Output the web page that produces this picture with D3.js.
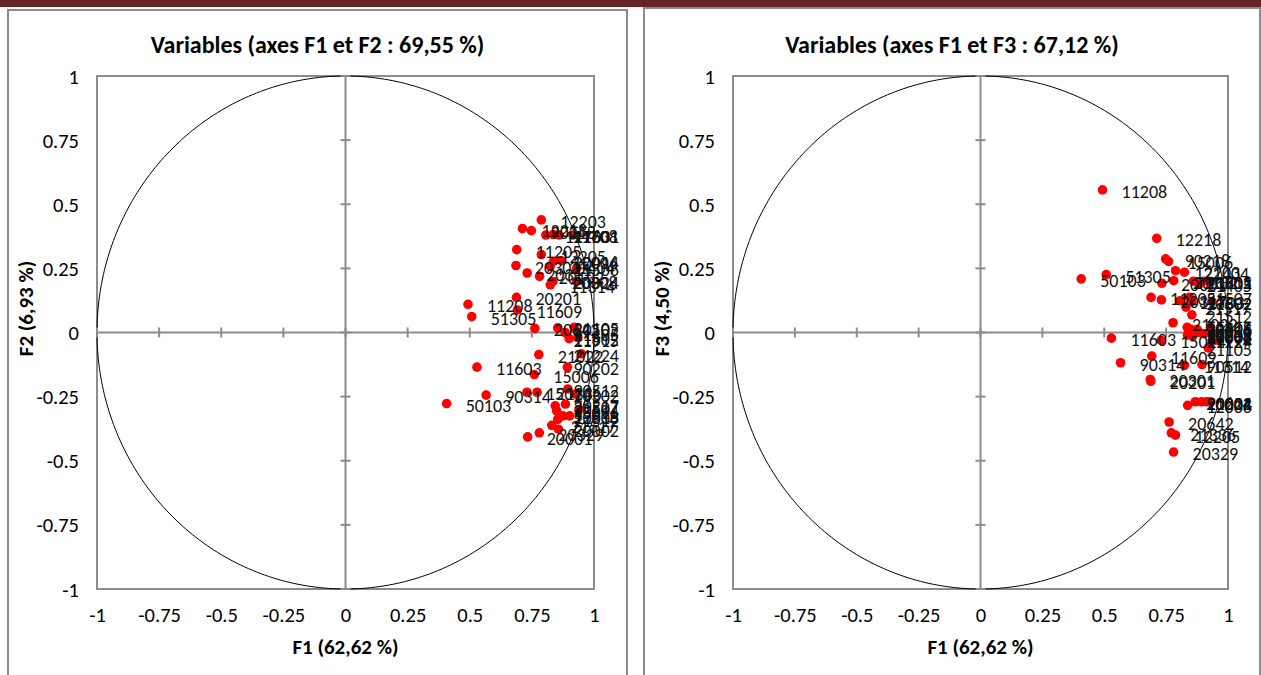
<!DOCTYPE html>
<html>
<head>
<meta charset="utf-8">
<script src="https://cdn.jsdelivr.net/npm/d3@7"></script>
<style>
  html, body { margin: 0; padding: 0; background: #fff; }
  svg { display: block; }
  text { font-family: Carlito, Lato, "Liberation Sans", sans-serif; }
</style>
</head>
<body>
<svg id="chart" width="1261" height="675"></svg>
<script>
// Variable codes and their coordinates on the first three factors
const codes = ["11208","51305","50103","11603","90314","12218","20201","20301","11609","11205",
  "20317","20001","15014","90218","15006","20642","21336","20329","21022","20132",
  "12205","12203","11703","21404","11314","21517","20308","11708","12006","21507",
  "15016","20502","21512","20002","11601","20014","20616","21405","20217","90202",
  "90512","21915","12008","21601","21105","20302","11506","20024","11602","20504","21224"];
const f1 = [0.493,0.508,0.407,0.529,0.566,0.712,0.688,0.686,0.692,0.689,
  0.731,0.733,0.730,0.748,0.760,0.762,0.771,0.780,0.778,0.781,
  0.788,0.788,0.806,0.824,0.824,0.830,0.835,0.836,0.837,0.844,
  0.850,0.854,0.854,0.857,0.860,0.868,0.875,0.884,0.885,0.893,
  0.895,0.900,0.902,0.915,0.920,0.925,0.930,0.930,0.935,0.940,0.949];
const f2 = [0.110,0.062,-0.277,-0.135,-0.244,0.405,0.137,0.261,0.088,0.323,
  0.232,-0.407,-0.233,0.397,-0.164,0.016,-0.233,-0.391,-0.086,0.219,
  0.304,0.439,0.380,0.258,0.186,-0.362,0.199,0.382,0.278,-0.286,
  -0.306,0.018,-0.339,-0.377,0.380,0.280,-0.325,0.000,-0.279,-0.135,
  -0.220,-0.024,-0.325,0.380,0.020,-0.240,0.250,0.200,-0.020,-0.300,-0.083];
const f3 = [0.556,0.226,0.209,-0.022,-0.118,0.367,-0.190,-0.183,-0.092,0.137,
  0.127,0.192,-0.031,0.287,0.277,-0.349,-0.391,-0.466,0.038,0.202,
  -0.400,0.241,0.124,0.235,-0.128,0.099,0.020,-0.010,-0.284,0.137,
  0.012,0.120,0.069,-0.015,0.200,-0.270,0.012,0.190,0.000,-0.270,
  -0.125,0.200,-0.005,-0.270,-0.060,0.200,0.020,-0.270,0.120,-0.010,-0.030];

const tickValues = [-1,-0.75,-0.5,-0.25,0,0.25,0.5,0.75,1];
const tickLabels = ["-1","-0.75","-0.5","-0.25","0","0.25","0.5","0.75","1"];

const panels = [
  { title: "Variables (axes F1 et F2 : 69,55 %)", xTitle: "F1 (62,62 %)", yTitle: "F2 (6,93 %)",
    frame: [8, 10, 627], plot: [97, 594], ys: f2 },
  { title: "Variables (axes F1 et F3 : 67,12 %)", xTitle: "F1 (62,62 %)", yTitle: "F3 (4,50 %)",
    frame: [644, 8, 1260], plot: [733, 1228], ys: f3 }
];

const svg = d3.select("#chart");
const grey = "#8c8c8c";

// banner along the top edge
svg.append("rect").attr("x", 0).attr("y", 0).attr("width", 1261).attr("height", 7).attr("fill", "#632423");

panels.forEach(p => {
  const g = svg.append("g");
  const [fx, fy, fr] = p.frame;
  // chart frame (open at the bottom edge of the page)
  g.append("path")
    .attr("d", `M${fx},680 L${fx},${fy} L${fr},${fy} L${fr},680`)
    .attr("fill", "none").attr("stroke", grey).attr("stroke-width", 2);

  const x = d3.scaleLinear().domain([-1, 1]).range(p.plot);
  const y = d3.scaleLinear().domain([-1, 1]).range([589, 76]);

  // plot area border
  g.append("rect")
    .attr("x", x(-1)).attr("y", y(1))
    .attr("width", x(1) - x(-1)).attr("height", y(-1) - y(1))
    .attr("fill", "none").attr("stroke", grey).attr("stroke-width", 2);

  // correlation circle
  const angles = d3.range(0, 361, 1).map(a => a * Math.PI / 180);
  g.append("path")
    .datum(angles)
    .attr("d", d3.line().x(a => x(Math.cos(a))).y(a => y(Math.sin(a))))
    .attr("fill", "none").attr("stroke", "#000").attr("stroke-width", 1);

  // axes through the origin
  g.append("line").attr("x1", x(-1)).attr("x2", x(1)).attr("y1", y(0)).attr("y2", y(0))
    .attr("stroke", grey).attr("stroke-width", 2);
  g.append("line").attr("x1", x(0)).attr("x2", x(0)).attr("y1", y(-1)).attr("y2", y(1))
    .attr("stroke", grey).attr("stroke-width", 2);

  // cross tick marks on both axes
  g.selectAll(".tx").data(tickValues).join("line")
    .attr("x1", d => x(d)).attr("x2", d => x(d))
    .attr("y1", y(0) - 5).attr("y2", y(0) + 5)
    .attr("stroke", grey).attr("stroke-width", 2);
  g.selectAll(".ty").data(tickValues).join("line")
    .attr("x1", x(0) - 5).attr("x2", x(0) + 5)
    .attr("y1", d => y(d)).attr("y2", d => y(d))
    .attr("stroke", grey).attr("stroke-width", 2);

  // tick labels along the bottom and left of the plot
  const xAxis = d3.axisBottom(x).tickValues(tickValues)
    .tickFormat((d, i) => tickLabels[i]).tickSize(0).tickPadding(0);
  const xa = g.append("g").attr("transform", `translate(0,${y(-1) + 26})`).call(xAxis);
  xa.select(".domain").remove();
  xa.selectAll("text").attr("dy", "0").attr("dominant-baseline", "central")
    .attr("font-size", 20.5).attr("fill", "#000").style("font-family", "Carlito, Lato, sans-serif");

  const yAxis = d3.axisLeft(y).tickValues(tickValues)
    .tickFormat((d, i) => tickLabels[i]).tickSize(0).tickPadding(0);
  const ya = g.append("g").attr("transform", `translate(${x(-1) - 18},0)`).call(yAxis);
  ya.select(".domain").remove();
  ya.selectAll("text").attr("dy", "0").attr("dominant-baseline", "central")
    .attr("font-size", 20.5).attr("fill", "#000").style("font-family", "Carlito, Lato, sans-serif");

  // titles
  g.append("text").attr("x", (fx + fr) / 2).attr("y", 44)
    .attr("text-anchor", "middle").attr("dominant-baseline", "central")
    .attr("font-size", 24).attr("font-weight", "bold")
    .text(p.title);
  g.append("text").attr("x", x(0)).attr("y", 647)
    .attr("text-anchor", "middle").attr("dominant-baseline", "central")
    .attr("font-size", 21).attr("font-weight", "bold")
    .text(p.xTitle);
  g.append("text").attr("transform", `translate(${fx + 18},${(y(1) + y(-1)) / 2 - 24}) rotate(-90)`)
    .attr("text-anchor", "middle").attr("dominant-baseline", "central")
    .attr("font-size", 21).attr("font-weight", "bold")
    .text(p.yTitle);

  // points then their labels; labels are kept inside the chart frame
  const pts = codes.map((c, i) => ({ code: c, vx: f1[i], vy: p.ys[i] }));
  g.selectAll(".pt").data(pts).join("circle")
    .attr("cx", d => x(d.vx)).attr("cy", d => y(d.vy)).attr("r", 4.8)
    .attr("fill", "#ff0000");
  g.selectAll(".lb").data(pts).join("text")
    .attr("y", d => y(d.vy) + 2)
    .attr("dominant-baseline", "central")
    .attr("font-size", 18).attr("fill", "#111")
    .text(d => d.code)
    .attr("x", function (d) {
      const w = this.getComputedTextLength();
      return Math.min(x(d.vx) + 19, fr - 8 - w);
    });
});
</script>
</body>
</html>
